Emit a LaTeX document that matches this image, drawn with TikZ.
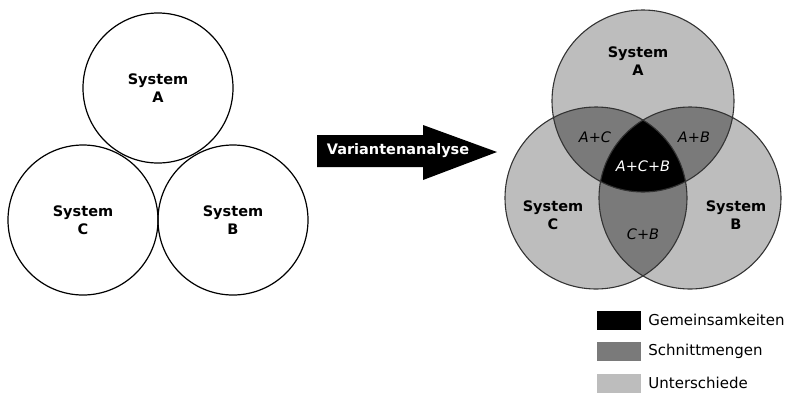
\documentclass[tikz,border=0pt]{standalone}
\usepackage{fontspec}
\setmainfont{DejaVu Sans}
\usepackage{tikz}
\usetikzlibrary{positioning}
\definecolor{hellgrau}{HTML}{BDBDBD}
\definecolor{mittelgrau}{HTML}{7A7A7A}
\tikzstyle{sys} = [circle, draw, line width=1.2pt, minimum size=150pt,
    inner sep=0pt, align=center, font=\fontsize{14.5}{18}\selectfont\bfseries]
\tikzstyle{venn} = [circle, draw=black!80, line width=1.1pt, minimum size=182pt, inner sep=0pt]

\begin{document}
\begin{tikzpicture}[x=1pt, y=-1pt]
    % Style definitions
    \tikzstyle{systext} = [align=center, font=\fontsize{14.5}{18}\selectfont\bfseries]
    \tikzstyle{schnitt} = [font=\fontsize{14.5}{18}\selectfont\itshape]
    \tikzstyle{legbox} = [rectangle, minimum width=44pt, minimum height=19pt, inner sep=0pt]
    \tikzstyle{legtext} = [anchor=west, inner sep=0pt, font=\fontsize{15}{18}\selectfont]

    \useasboundingbox (0,0) rectangle (788,392);

    % Systems before the analysis
    \node [sys] (sysA) at (158,88) {System\\A};
    \node [sys] (sysC) at (83,220) {System\\C};
    \node [sys] (sysB) at (233,220) {System\\B};

    % Arrow
    \fill (317,135) -- (423,135) -- (423,125) -- (497,152) -- (423,180)
        -- (423,167) -- (317,167) -- cycle;
    \node [text=white, font=\fontsize{14.5}{18}\selectfont\bfseries] (va) at (398,151) {Variantenanalyse};

    % Venn diagram: fills
    \coordinate (mA) at (643,101);
    \coordinate (mC) at (596,198);
    \coordinate (mB) at (690,198);
    \foreach \m in {mA,mB,mC}
        \fill [hellgrau] (\m) circle [radius=91pt];
    \begin{scope}
        \clip (mA) circle [radius=91pt];
        \fill [mittelgrau] (mC) circle [radius=91pt];
        \fill [mittelgrau] (mB) circle [radius=91pt];
    \end{scope}
    \begin{scope}
        \clip (mC) circle [radius=91pt];
        \fill [mittelgrau] (mB) circle [radius=91pt];
    \end{scope}
    \begin{scope}
        \clip (mA) circle [radius=91pt];
        \clip (mC) circle [radius=91pt];
        \fill [black] (mB) circle [radius=91pt];
    \end{scope}

    % Venn diagram: outlines
    \node [venn] (vennA) at (mA) {};
    \node [venn] (vennC) at (mC) {};
    \node [venn] (vennB) at (mB) {};

    % Labels
    \node [systext] (labA) at (638,61) {System\\A};
    \node [systext] (labC) at (553,215) {System\\C};
    \node [systext] (labB) at (736,215) {System\\B};
    \node [schnitt] (ac) at (595,137) {A+C};
    \node [schnitt] (ab) at (694,137) {A+B};
    \node [schnitt, text=white] (acb) at (643,166) {A+C+B};
    \node [schnitt] (cb) at (643,234) {C+B};

    % Legend
    \node [legbox, fill=black] (legG) at (619,320) {};
    \node [legbox, fill=mittelgrau] (legS) at (619,351) {};
    \node [legbox, fill=hellgrau] (legU) at (619,383) {};
    \node [legtext, right=7pt of legG] {Gemeinsamkeiten};
    \node [legtext, right=7pt of legS] {Schnittmengen};
    \node [legtext, right=7pt of legU] {Unterschiede};
\end{tikzpicture}
\end{document}
